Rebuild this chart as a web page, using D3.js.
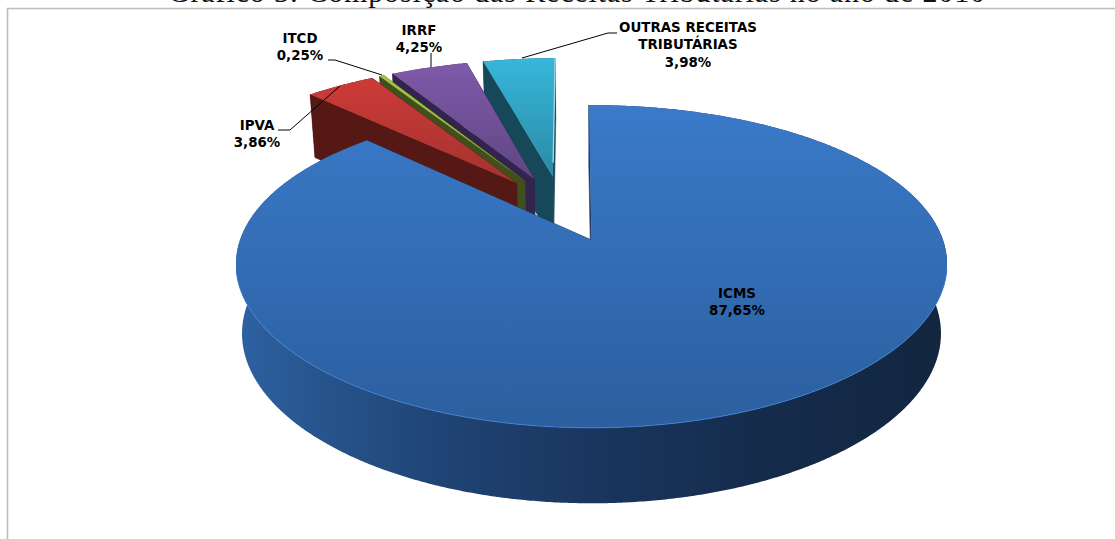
<!DOCTYPE html>
<html><head><meta charset="utf-8">
<script src="https://cdn.jsdelivr.net/npm/d3@7/dist/d3.min.js"></script>
<style>html,body{margin:0;padding:0;background:#fff;overflow:hidden}svg{display:block}</style>
</head><body><svg id="c" width="1115" height="539"></svg>
<script>
// ---- data ----
const categories = ["ICMS","IPVA","ITCD","IRRF","OUTRAS RECEITAS TRIBUTÁRIAS"];
const shares = [87.65,3.86,0.25,4.25,3.98];
const shareLabels = ["87,65%","3,86%","0,25%","4,25%","3,98%"];
const titleText = "Gráfico 3: Composição das Receitas Tributárias no ano de 2010";

// ---- styling / layout (not data) ----
const topColors  = [["#3a7ac9","#2b5f9f"],["#cd3b38","#a33230"],["#a4c544","#8aa83a"],["#7f5aa9","#5f4683"],["#37b7da","#2a8aa6"]];
const wallColors = ["#1b3a66","#551814","#414f1c","#33244d","#17485a"];
const labelLines = [["ICMS"],["IPVA"],["ITCD"],["IRRF"],["OUTRAS RECEITAS","TRIBUTÁRIAS"]];
const labelAnchor = [[737,298],[257,130],[300,43],[419,35],[688,32]];
const leaders = [null,[[278,130],[290,130],[340,86]],[[328,60],[335,60],[382,75]],[[431,53],[431,67]],[[617,33],[608,33],[522,58]]];

const svg = d3.select("#c");
const defs = svg.append("defs");
const lineGen = d3.line();

// perspective projection of the pie plane
const apex=[591.5,240], perspY=0.164, perspX=0.15, scaleX=351.5, scaleY=157, explode=0.225;
const project=(u,v)=>[apex[0]+scaleX*u/(1-perspX*v), apex[1]+scaleY*v/(1-perspY*v)];
// vertical extrusion grows toward the viewer, and converges slightly in x
const depth=d3.scaleLinear().domain([95,428]).range([63,75.5]);
const drop=([x,y])=>[apex[0]+0.983*(x-apex[0]), y+depth(y)];

const rot=-0.5*Math.PI/180;
const arcs=d3.pie().sort(null).startAngle(rot).endAngle(rot+2*Math.PI)(shares);
const dir=a=>[Math.sin(a),-Math.cos(a)];
const mid=d=>(d.startAngle+d.endAngle)/2;
const base=dir(mid(arcs[0])).map(c=>-explode*c);
const centerOf=d=>{const m=dir(mid(d));return [base[0]+explode*m[0],base[1]+explode*m[1]];};
const rimOf=d=>{
  const c=centerOf(d), n=Math.max(4,Math.ceil((d.endAngle-d.startAngle)/(0.4*Math.PI/180)));
  return d3.range(n+1).map(i=>{
    const a=d.startAngle+(d.endAngle-d.startAngle)*i/n, p=dir(a);
    return project(c[0]+p[0],c[1]+p[1]);
  });
};

// gradients
function vGrad(id,cols){
  const g=defs.append("linearGradient").attr("id",id).attr("x1",0).attr("y1",0).attr("x2",0).attr("y2",1);
  g.append("stop").attr("offset",0).attr("stop-color",cols[0]);
  g.append("stop").attr("offset",1).attr("stop-color",cols[1]);
}
topColors.forEach((c,i)=>vGrad("top"+i,c));
const side=defs.append("linearGradient").attr("id","sideBlue").attr("x1",0).attr("y1",0).attr("x2",1).attr("y2",0);
[[0,"#2e62a3"],[0.1,"#285690"],[0.3,"#1f4373"],[0.5,"#1a365f"],[0.72,"#152c4d"],[1,"#12263f"]]
  .forEach(s=>side.append("stop").attr("offset",s[0]).attr("stop-color",s[1]));

// frame
svg.append("path").attr("d",lineGen([[7.5,539],[7.5,8.5],[1115,8.5]]))
  .attr("fill","none").attr("stroke","#bdbdbd").attr("stroke-width",1.6);

// title (clipped by the top of the page in the source)
svg.append("text").attr("x",168).attr("y",1.5).attr("font-family","'Liberation Serif',serif")
  .attr("font-size",30).attr("textLength",817).attr("fill","#111").text(titleText);

// slices back to front
const order=[4,3,2,1,0];
const g=svg.append("g");
order.forEach(i=>{
  const d=arcs[i], rim=rimOf(d), c=project(...centerOf(d));
  const gs=g.append("g").attr("class","slice");
  const wall=[
    [c,rim[0],drop(rim[0]),drop(c)],
    [c,rim[rim.length-1],drop(rim[rim.length-1]),drop(c)]
  ];
  wall.forEach(w=>gs.append("path").attr("d",lineGen(w)+"Z").attr("fill",wallColors[i]).attr("stroke",wallColors[i]).attr("stroke-width",0.6));
  const strip=rim.concat(rim.map(drop).reverse());
  gs.append("path").attr("d",lineGen(strip)+"Z")
    .attr("fill",i===0?"url(#sideBlue)":wallColors[i]);
  gs.append("path").attr("d",lineGen([c].concat(rim))+"Z").attr("fill",`url(#top${i})`);
  if(i===0){
    // light rim on the visible front edge
    const front=rim.filter(p=>p[1]>270);
    gs.append("path").attr("d",lineGen(front)).attr("fill","none").attr("stroke","#3f7fd2").attr("stroke-width",0.9);
  }
  if(i===4){
    // pale fringe on the right edge of the top face
    const e=rim[rim.length-1];
    gs.append("path").attr("d",lineGen([e,[e[0]+(c[0]-e[0])*0.88,e[1]+(c[1]-e[1])*0.88]]))
      .attr("fill","none").attr("stroke","#9fd6e6").attr("stroke-width",1.4);
  }
});

// leader lines
leaders.forEach(l=>{ if(l) svg.append("path").attr("d",lineGen(l)).attr("fill","none").attr("stroke","#000").attr("stroke-width",1); });

// labels
categories.forEach((c,i)=>{
  const lines=labelLines[i].concat([shareLabels[i]]);
  const t=svg.append("text").attr("text-anchor","middle").attr("font-family","Verdana,'DejaVu Sans',sans-serif")
    .attr("font-weight","bold").attr("font-size",13.4).attr("fill","#000");
  lines.forEach((s,j)=>t.append("tspan").attr("x",labelAnchor[i][0]).attr("y",labelAnchor[i][1]+j*17.4).text(s));
});
</script></body></html>
